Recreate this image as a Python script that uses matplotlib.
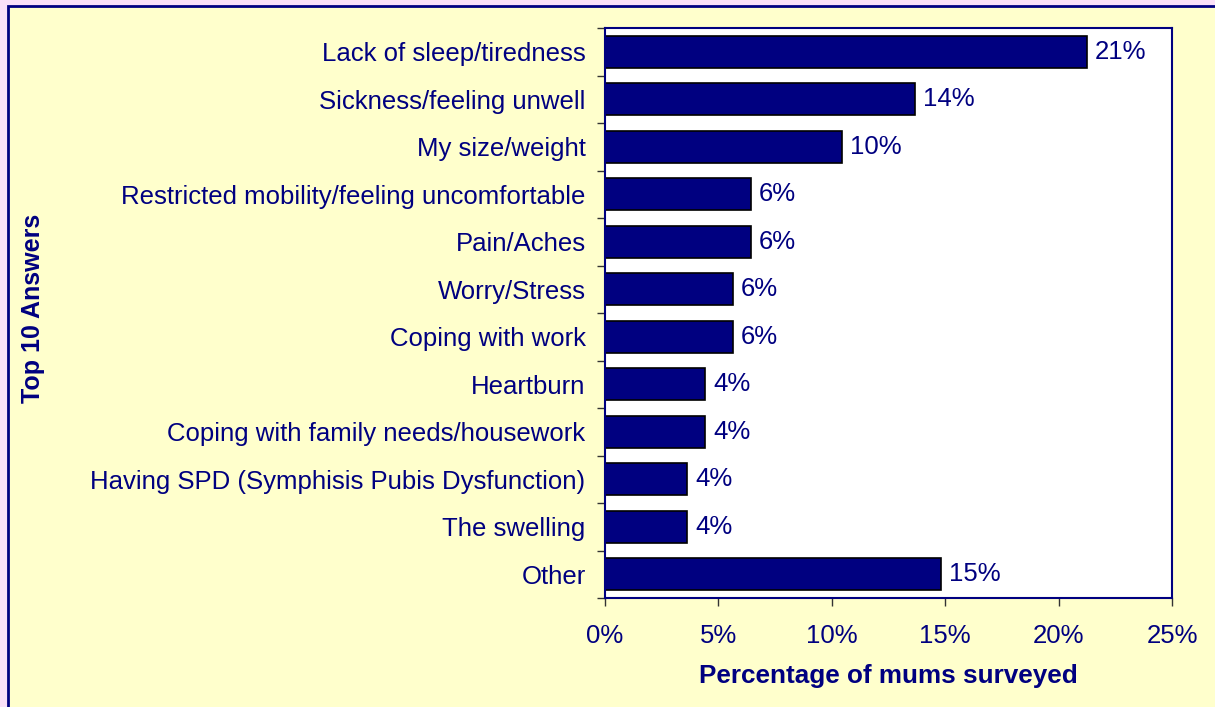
import matplotlib.pyplot as plt
from matplotlib.patches import Rectangle
import numpy as np

plt.rcParams["font.family"] = ["Liberation Sans", "DejaVu Sans"]

# answers, top to bottom
answers = [
    "Lack of sleep/tiredness",
    "Sickness/feeling unwell",
    "My size/weight",
    "Restricted mobility/feeling uncomfortable",
    "Pain/Aches",
    "Worry/Stress",
    "Coping with work",
    "Heartburn",
    "Coping with family needs/housework",
    "Having SPD (Symphisis Pubis Dysfunction)",
    "The swelling",
    "Other",
]
share = [21.25, 13.67, 10.45, 6.44, 6.44, 5.64, 5.64, 4.41, 4.41, 3.62, 3.62, 14.81]
xticks = [0, 5, 10, 15, 20, 25]

navy = "#000080"

fig = plt.figure(figsize=(12.15, 7.07), dpi=100)
fig.patch.set_facecolor("#FAE0F8")
# yellow panel with navy frame
fig.patches.append(Rectangle((8 / 1215, -0.05), 1.1, 1 - 6 / 707 + 0.05,
                             transform=fig.transFigure, facecolor="#FFFFCC",
                             edgecolor=navy, linewidth=2, zorder=-5))

ax = fig.add_axes([605 / 1215, 1 - 598 / 707, 567 / 1215, 570 / 707])
ax.set_facecolor("white")

y = np.arange(len(answers))
ax.barh(y, share, height=0.67, color=navy, edgecolor="black", linewidth=1.2)
for yi, v in zip(y, share):
    ax.text(v + 0.35, yi, f"{round(v)}%", va="center", ha="left",
            fontsize=18.5, color=navy)

ax.set_ylim(len(answers) - 0.5, -0.5)
ax.set_xlim(0, 25)
ax.set_yticks(y)
ax.set_yticklabels(answers, fontsize=18.5, color=navy)
ax.set_yticks(np.arange(len(answers) + 1) - 0.5, minor=True)
ax.tick_params(axis="y", which="major", length=0, pad=14)
ax.tick_params(axis="y", which="minor", length=6, color="#333333", width=1)
ax.set_xticks(xticks)
ax.set_xticklabels([f"{t}%" for t in xticks], fontsize=18.5, color=navy)
ax.tick_params(axis="x", length=6, color="#333333", width=1, pad=13)

for s in ax.spines.values():
    s.set_color(navy)
    s.set_linewidth(1.5)

ax.set_xlabel("Percentage of mums surveyed", fontsize=18.8, fontweight="bold",
              color=navy, labelpad=11)
fig.text(33 / 1215, 1 - 308 / 707, "Top 10 Answers", rotation=90, ha="center",
         va="center", fontsize=18, fontweight="bold", color=navy)

plt.savefig("out.png", dpi=100, facecolor=fig.get_facecolor())
